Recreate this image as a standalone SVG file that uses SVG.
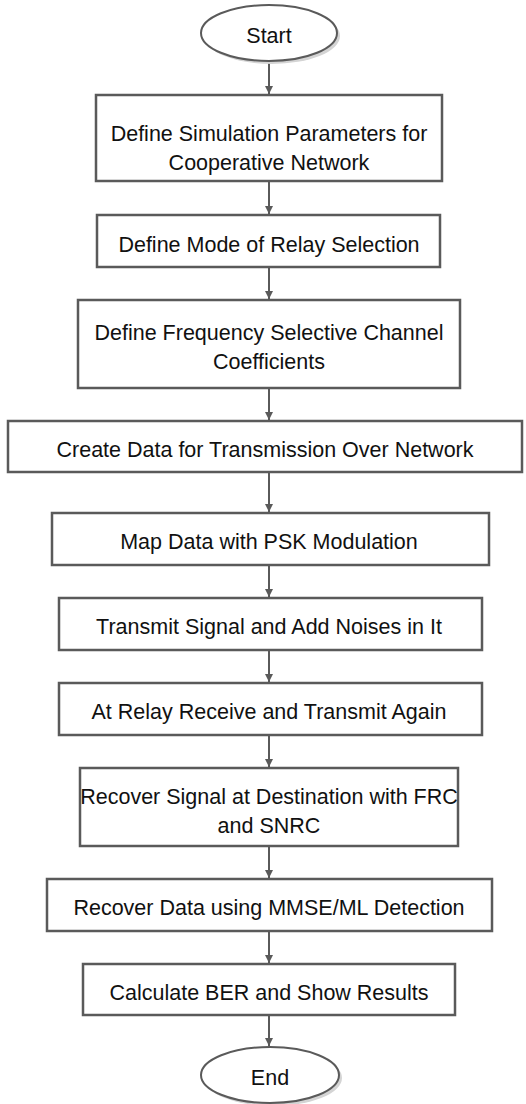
<svg xmlns="http://www.w3.org/2000/svg" width="526" height="1104" viewBox="0 0 526 1104">
  <style>
    .box { fill: #ffffff; stroke: #5a5a5a; stroke-width: 2.5; }
    .term { fill: #ffffff; stroke: #5a5a5a; stroke-width: 2; }
    .shadow { fill: #d4d4d4; stroke: none; }
    .lbl { font-family: "Liberation Sans", Arial, sans-serif; font-size: 21.5px; fill: #111111; text-anchor: middle; }
    .flow { stroke: #5a5a5a; stroke-width: 2; fill: none; marker-end: url(#arrow); }
  </style>
  <defs>
    <marker id="arrow" viewBox="0 0 10 10" refX="10" refY="5" markerWidth="4" markerHeight="4" orient="auto" markerUnits="strokeWidth">
      <path d="M0,0 L10,5 L0,10 z" fill="#5a5a5a"/>
    </marker>
  </defs>
  <rect width="526" height="1104" fill="#ffffff"/>

  <!-- connectors -->
  <g id="connectors">
    <line class="flow" x1="269" y1="61" x2="269" y2="94"/>
    <line class="flow" x1="269" y1="181" x2="269" y2="214"/>
    <line class="flow" x1="269" y1="267" x2="269" y2="299"/>
    <line class="flow" x1="269" y1="388" x2="269" y2="420"/>
    <line class="flow" x1="269" y1="472" x2="269" y2="512"/>
    <line class="flow" x1="269" y1="565" x2="269" y2="597"/>
    <line class="flow" x1="269" y1="650" x2="269" y2="682"/>
    <line class="flow" x1="269" y1="735" x2="269" y2="767"/>
    <line class="flow" x1="269" y1="846" x2="269" y2="878"/>
    <line class="flow" x1="269" y1="931" x2="269" y2="963"/>
    <line class="flow" x1="269" y1="1015" x2="269" y2="1046"/>
  </g>

  <!-- terminal: start -->
  <g id="start">
    <ellipse class="shadow" cx="272" cy="36" rx="68" ry="28"/>
    <ellipse class="term" cx="269" cy="33" rx="68" ry="28"/>
    <text class="lbl" x="269" y="43">Start</text>
  </g>

  <g id="define-params">
    <rect class="box" x="96" y="95" width="346" height="86"/>
    <text class="lbl" x="269" y="141">Define Simulation Parameters for</text>
    <text class="lbl" x="269" y="170">Cooperative Network</text>
  </g>

  <g id="relay-mode">
    <rect class="box" x="97" y="215" width="343" height="52"/>
    <text class="lbl" x="269" y="252">Define Mode of Relay Selection</text>
  </g>

  <g id="channel-coeffs">
    <rect class="box" x="78" y="300" width="382" height="88"/>
    <text class="lbl" x="269" y="340">Define Frequency Selective Channel</text>
    <text class="lbl" x="269" y="369">Coefficients</text>
  </g>

  <g id="create-data">
    <rect class="box" x="8" y="421" width="514" height="51"/>
    <text class="lbl" x="265" y="457">Create Data for Transmission Over Network</text>
  </g>

  <g id="psk-map">
    <rect class="box" x="52" y="513" width="437" height="52"/>
    <text class="lbl" x="269" y="549">Map Data with PSK Modulation</text>
  </g>

  <g id="transmit-noise">
    <rect class="box" x="59" y="598" width="423" height="52"/>
    <text class="lbl" x="269" y="634">Transmit Signal and Add Noises in It</text>
  </g>

  <g id="relay-retransmit">
    <rect class="box" x="59" y="683" width="423" height="52"/>
    <text class="lbl" x="269" y="719">At Relay Receive and Transmit Again</text>
  </g>

  <g id="recover-signal">
    <rect class="box" x="80" y="768" width="378" height="78"/>
    <text class="lbl" x="269" y="804">Recover Signal at Destination with FRC</text>
    <text class="lbl" x="269" y="833">and SNRC</text>
  </g>

  <g id="recover-data">
    <rect class="box" x="47" y="879" width="445" height="52"/>
    <text class="lbl" x="269" y="915">Recover Data using MMSE/ML Detection</text>
  </g>

  <g id="calc-ber">
    <rect class="box" x="83" y="964" width="372" height="51"/>
    <text class="lbl" x="269" y="1000">Calculate BER and Show Results</text>
  </g>

  <!-- terminal: end -->
  <g id="end">
    <ellipse class="shadow" cx="273" cy="1078" rx="69" ry="28"/>
    <ellipse class="term" cx="270" cy="1075" rx="69" ry="28"/>
    <text class="lbl" x="270" y="1085">End</text>
  </g>
</svg>
